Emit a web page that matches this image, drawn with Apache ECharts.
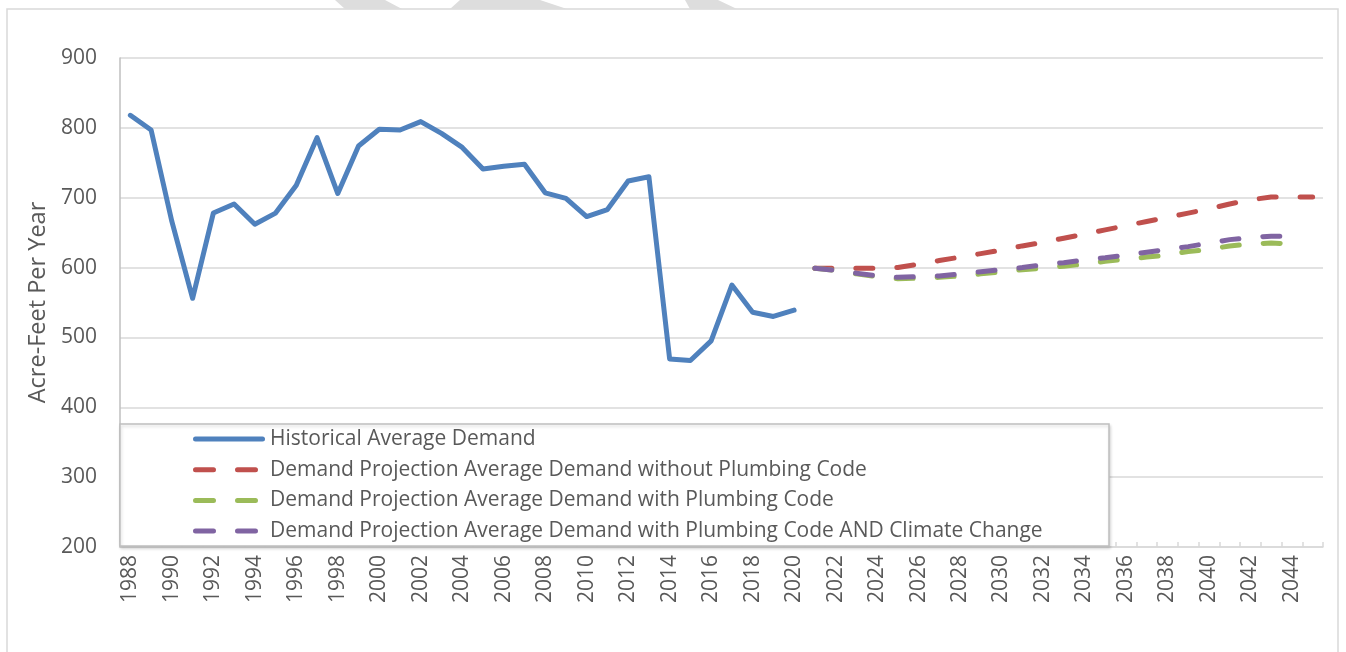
<!DOCTYPE html>
<html>
<head>
<meta charset="utf-8">
<script src="https://cdn.jsdelivr.net/npm/echarts@6/dist/echarts.min.js"></script>
<style>
  html, body { margin: 0; padding: 0; background: #fff; }
  #chart { width: 1346px; height: 652px; }
</style>
</head>
<body>
<div id="chart"></div>
<script>
// years on the category axis
const years = []
for (let y = 1988; y <= 2045; y++) years.push(String(y))

// historical demand, 1988 - 2020
const historical = [818, 797, 666, 556, 678, 691, 662, 678, 718, 786, 706, 774, 798, 797, 809,
  792, 772, 741, 745, 748, 707, 699, 673, 683, 724, 730, 469, 467, 495, 575, 536, 530, 539]

// projections start in 2021
const noPlumbing = [599, 599, 599, 599, 600, 605, 610, 615, 620, 625, 631, 636, 642, 648, 654,
  660, 666, 672, 678, 684, 691, 697, 701, 701, 701]
const withPlumbing = [599, 596, 591, 587, 584, 585, 586, 588, 591, 594, 597, 599, 602, 605, 609,
  612, 615, 618, 623, 626, 631, 634, 635, 634]
const withClimate = [599, 596, 592, 588, 586, 587, 588, 591, 594, 597, 600, 604, 607, 611, 614,
  618, 622, 626, 630, 635, 640, 643, 645, 645]

const yTicks = { min: 200, max: 900, step: 100 }

const names = [
  'Historical Average Demand',
  'Demand Projection Average Demand without Plumbing Code',
  'Demand Projection Average Demand with Plumbing Code',
  'Demand Projection Average Demand with Plumbing Code AND Climate Change'
]

const pad = (arr, startYear) => {
  const out = years.map(() => null)
  const off = startYear - 1988
  arr.forEach((v, i) => { out[off + i] = v })
  return out
}

const font = '"Open Sans", "Liberation Sans", sans-serif'
const txt = '#595959'

// legend icons: a rounded solid bar and two rounded dashes (tiny dot keeps the box 72 wide)
const solidIcon = 'path://M2.5,0 H69.5 A2.5,2.5 0 0 1 69.5,5 H2.5 A2.5,2.5 0 0 1 2.5,0 Z'
const dashIcon = 'path://M2.5,0 H20.5 A2.5,2.5 0 0 1 20.5,5 H2.5 A2.5,2.5 0 0 1 2.5,0 Z ' +
  'M44.5,0 H62.5 A2.5,2.5 0 0 1 62.5,5 H44.5 A2.5,2.5 0 0 1 44.5,0 Z M71.9,2.45 L72,2.5 L71.9,2.55 Z'

const dashed = (name, color, data) => ({
  name: name,
  type: 'line',
  data: pad(data, 2021),
  symbol: 'none',
  lineStyle: { color: color, width: 5, type: [17, 24], cap: 'round', join: 'round' },
  itemStyle: { color: color },
  z: 3
})

const chart = echarts.init(document.getElementById('chart'))
const options = {
  animation: false,
  backgroundColor: '#fff',
  textStyle: { fontFamily: font },
  grid: { left: 120, right: 23, top: 58, bottom: 105 },
  graphic: [
    // outer chart frame
    { type: 'rect', z: -1, shape: { x: 7, y: 9, width: 1331, height: 660 },
      style: { fill: 'none', stroke: '#D9D9D9', lineWidth: 1.5 } },
    // watermark fragments above the frame
    { type: 'polygon', z: -1, shape: { points: [[335, 0], [385, 0], [402, 9], [345, 9]] }, style: { fill: '#DDDDDD' } },
    { type: 'polygon', z: -1, shape: { points: [[460, 0], [540, 0], [567, 9], [450, 9]] }, style: { fill: '#DDDDDD' } },
    { type: 'polygon', z: -1, shape: { points: [[685, 0], [718, 0], [737, 9], [690, 9]] }, style: { fill: '#DDDDDD' } },
    // legend box
    { type: 'rect', z: 10, shape: { x: 120, y: 424, width: 989, height: 122 },
      style: { fill: '#fff', stroke: '#BFBFBF', lineWidth: 1.5,
        shadowBlur: 3, shadowColor: 'rgba(0,0,0,0.15)', shadowOffsetX: 1, shadowOffsetY: 2 } }
  ],
  legend: {
    orient: 'vertical',
    left: 193,
    top: 428,
    padding: 0,
    itemWidth: 72,
    itemHeight: 5,
    itemGap: 8.7,
    z: 20,
    textStyle: { color: txt, fontSize: 21, lineHeight: 22, fontFamily: font },
    data: [
      { name: names[0], icon: solidIcon },
      { name: names[1], icon: dashIcon },
      { name: names[2], icon: dashIcon },
      { name: names[3], icon: dashIcon }
    ]
  },
  xAxis: {
    type: 'category',
    data: years,
    boundaryGap: true,
    axisLine: { lineStyle: { color: '#D9D9D9', width: 1.5 } },
    axisTick: { show: true, interval: 0, inside: true, length: 5, lineStyle: { color: '#D9D9D9', width: 1.5 } },
    axisLabel: { interval: 1, rotate: 90, color: txt, fontSize: 21, margin: 8, fontFamily: font },
    splitLine: { show: false }
  },
  yAxis: {
    type: 'value',
    min: yTicks.min,
    max: yTicks.max,
    interval: yTicks.step,
    name: 'Acre-Feet Per Year',
    nameLocation: 'middle',
    nameGap: 70,
    nameTextStyle: { color: txt, fontSize: 23.5, fontFamily: font },
    axisLine: { show: true, lineStyle: { color: '#BFBFBF', width: 1.5 } },
    axisTick: { show: false },
    axisLabel: { color: txt, fontSize: 21, margin: 23, fontFamily: font },
    splitLine: { lineStyle: { color: '#D9D9D9', width: 1.5 } }
  },
  series: [
    {
      name: names[0],
      type: 'line',
      data: pad(historical, 1988),
      symbol: 'none',
      lineStyle: { color: '#4F81BD', width: 5, cap: 'round', join: 'round' },
      itemStyle: { color: '#4F81BD' },
      z: 3
    },
    dashed(names[1], '#C0504D', noPlumbing),
    dashed(names[2], '#9BBB59', withPlumbing),
    dashed(names[3], '#8064A2', withClimate)
  ]
}
chart.setOption(options)
window.onresize = () => { chart.resize() }
</script>
</body>
</html>
